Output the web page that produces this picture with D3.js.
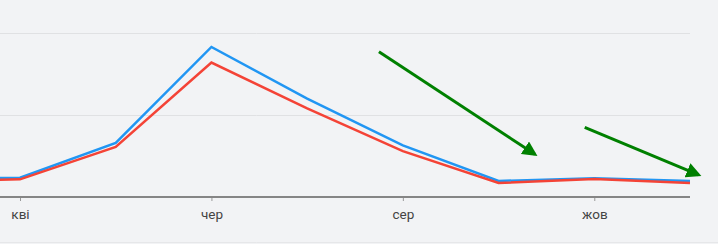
<!DOCTYPE html>
<html>
<head>
<meta charset="utf-8">
<script src="https://cdn.jsdelivr.net/npm/d3@7"></script>
<style>
  html, body { margin: 0; padding: 0; background: #f2f3f5; }
  svg { display: block; }
  .tick text { font-family: Roboto, 'Liberation Sans', sans-serif; font-size: 13.5px; fill: #444; }
</style>
</head>
<body>
<div id="chart"></div>
<script>
'use strict';

// months, from бер (partly off-screen) to лис
var months = [ 'бер', 'кві', 'тра', 'чер', 'лип', 'сер', 'вер', 'жов', 'лис' ];
var tickMonths = [ 'кві', 'чер', 'сер', 'жов' ];

var blueValues = [ 22.5, 23.5, 66, 183, 120, 63, 19.5, 23, 19.5 ];
var redValues = [ 20, 21.5, 61, 164, 108, 56, 17, 22, 17 ];

var gridValues = [ 100, 200 ];

// annotation arrows, in month index / value units
var arrows = [
  { x1: 4.75, y1: 177, x2: 6.38, y2: 52 },
  { x1: 6.9, y1: 85, x2: 8.09, y2: 27 }
];

var baseWidth = 718,
    baseHeight = 244;

var x = d3.scaleLinear()
    .domain( [ 1, 8 ] )
    .range( [ 20, 690 ] );

var y = d3.scaleLinear()
    .domain( [ 0, 200 ] )
    .range( [ 197, 33 ] );

var svg = d3.select( '#chart' )
  .append( 'svg' )
    .attr( 'width', baseWidth )
    .attr( 'height', baseHeight );

svg.append( 'defs' )
  .append( 'marker' )
    .attr( 'id', 'arrowhead' )
    .attr( 'viewBox', '0 0 10 10' )
    .attr( 'refX', 8 )
    .attr( 'refY', 5 )
    .attr( 'markerWidth', 5 )
    .attr( 'markerHeight', 5 )
    .attr( 'orient', 'auto' )
  .append( 'path' )
    .attr( 'd', 'M0,0 L10,5 L0,10 z' )
    .attr( 'fill', '#008000' );

// gridlines
svg.selectAll( '.grid' )
    .data( gridValues )
  .enter().append( 'line' )
    .attr( 'class', 'grid' )
    .attr( 'x1', 0 )
    .attr( 'x2', x( 8 ) )
    .attr( 'y1', function( d ) { return Math.round( y( d ) ) + 0.5; } )
    .attr( 'y2', function( d ) { return Math.round( y( d ) ) + 0.5; } )
    .style( 'stroke', '#e0e1e3' )
    .attr( 'stroke-width', 1 );

// x axis
var xAxis = svg.append( 'g' )
    .attr( 'class', 'x axis' )
    .attr( 'transform', 'translate( 0,' + y( 0 ) + ')' )
    .call(
      d3.axisBottom( x )
        .tickValues( tickMonths.map( function( m ) { return months.indexOf( m ); } ) )
        .tickFormat( function( d ) { return months[ d ]; } )
        .tickSize( 4 )
        .tickPadding( 8 )
    );

xAxis.select( '.domain' ).remove();
xAxis.selectAll( '.tick line' ).style( 'stroke', '#999' );

svg.append( 'line' )
    .attr( 'x1', 0 )
    .attr( 'x2', x( 8 ) )
    .attr( 'y1', y( 0 ) )
    .attr( 'y2', y( 0 ) )
    .style( 'stroke', '#858585' )
    .attr( 'stroke-width', 2 );

var line = d3.line()
    .x( function( d, i ) { return x( i ); } )
    .y( function( d ) { return y( d ); } );

svg.append( 'path' )
    .datum( blueValues )
    .attr( 'fill', 'none' )
    .attr( 'stroke', '#2196f3' )
    .attr( 'stroke-width', 2.5 )
    .attr( 'd', line );

svg.append( 'path' )
    .datum( redValues )
    .attr( 'fill', 'none' )
    .attr( 'stroke', '#f44336' )
    .attr( 'stroke-width', 2.5 )
    .attr( 'd', line );

// annotations
svg.selectAll( '.arrow' )
    .data( arrows )
  .enter().append( 'line' )
    .attr( 'class', 'arrow' )
    .attr( 'x1', function( d ) { return x( d.x1 ); } )
    .attr( 'y1', function( d ) { return y( d.y1 ); } )
    .attr( 'x2', function( d ) { return x( d.x2 ); } )
    .attr( 'y2', function( d ) { return y( d.y2 ); } )
    .style( 'stroke', '#008000' )
    .attr( 'stroke-width', 3 )
    .attr( 'marker-end', 'url(#arrowhead)' );

// bottom border
svg.append( 'line' )
    .attr( 'x1', 0 )
    .attr( 'x2', baseWidth )
    .attr( 'y1', baseHeight - 1.5 )
    .attr( 'y2', baseHeight - 1.5 )
    .style( 'stroke', '#e6e7e9' )
    .attr( 'stroke-width', 1 );
</script>
</body>
</html>
